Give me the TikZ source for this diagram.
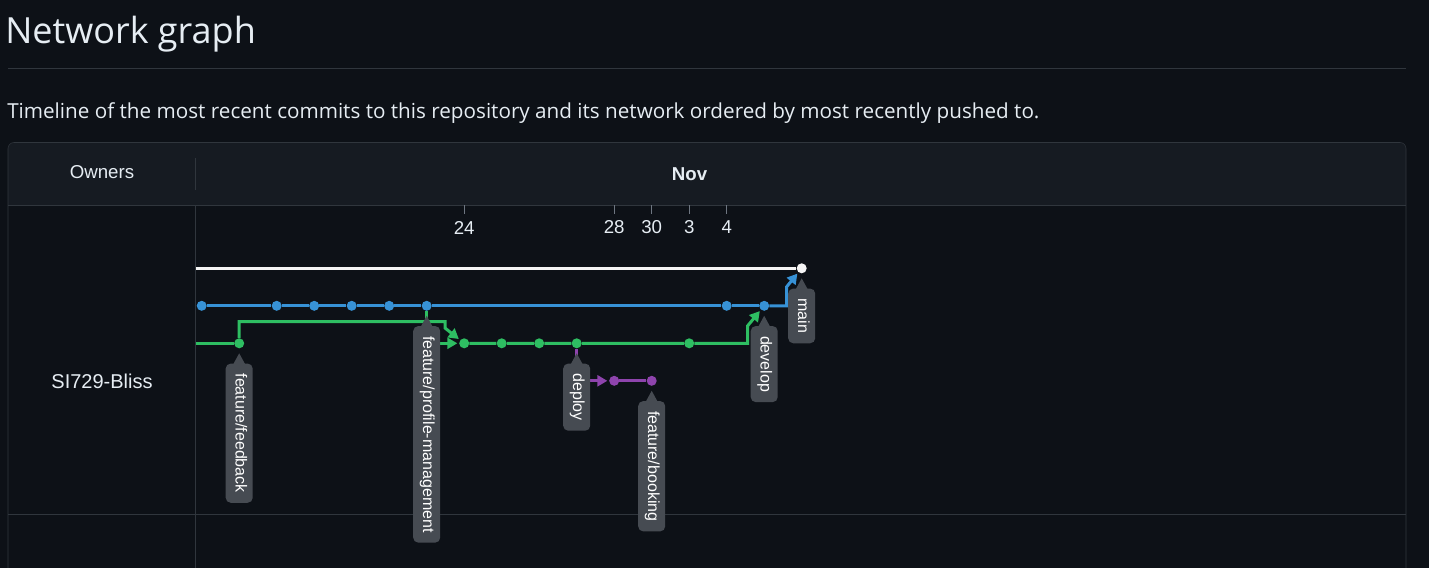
\documentclass[tikz,border=0pt]{standalone}
\usepackage{fontspec}
\setmainfont{Open Sans}
\newfontfamily\graphfont{Liberation Sans}
\usetikzlibrary{arrows.meta}
\definecolor{pagebg}{RGB}{13,17,23}
\definecolor{headbg}{RGB}{22,27,34}
\definecolor{rulec}{RGB}{48,54,61}
\definecolor{fg}{RGB}{230,237,243}
\definecolor{tickc}{RGB}{110,118,129}
\definecolor{tagc}{RGB}{70,75,82}
\definecolor{mainc}{RGB}{245,245,245}
\definecolor{devc}{RGB}{55,146,214}
\definecolor{featc}{RGB}{46,190,98}
\definecolor{depc}{RGB}{142,68,173}
\pgfdeclarelayer{panel}
\pgfdeclarelayer{edges}
\pgfsetlayers{panel,edges,main}
\begin{document}
\begin{tikzpicture}[x=0.75pt, y=-0.75pt,
    commit/.style={circle, inner sep=0pt, minimum size=7.5pt},
    lane/.style={line width=2.25pt},
    merge/.style={lane, -{Triangle[length=7.5pt,width=8.25pt]}, shorten >=1.2pt},
    branchtag/.style={rotate=-90, anchor=west, fill=tagc, text=white, rounded corners=3.75pt,
        inner xsep=7.5pt, inner ysep=0pt, minimum height=20.25pt, text height=0.72em,
        text depth=0.2em, font=\graphfont\fontsize{12}{14}\selectfont},
    datelbl/.style={font=\graphfont\fontsize{14}{16}\selectfont, text=fg}]
    \useasboundingbox (0,0) rectangle (1429,568);
    \begin{pgfonlayer}{panel}
        \fill[pagebg] (0,0) rectangle (1429,568);
        \draw[rulec] (8,68) -- (1406,68);
        \fill[headbg, rounded corners=4.5pt] (8,142.5) rectangle (1406,215);
        \fill[pagebg] (8,205) rectangle (1406,568);
        \draw[rulec, rounded corners=4.5pt] (8,568) -- (8,142.5) -- (1406,142.5) -- (1406,568);
        \draw[rulec] (8,205) -- (1406,205);
        \draw[rulec] (8,514) -- (1406,514);
        \draw[rulec] (195,158) -- (195,190);
        \draw[rulec] (195,205) -- (195,568);
    \end{pgfonlayer}
    \node[anchor=base west, inner sep=0pt, text=fg, font=\fontsize{27}{32}\selectfont] (title) at (5,43) {Network graph};
    \node[anchor=base west, inner sep=0pt, text=fg, font=\fontsize{15.5}{18}\selectfont] (subtitle) at (7,118)
        {Timeline of the most recent commits to this repository and its network ordered by most recently pushed to.};
    \node[datelbl] (owners) at (102,172) {Owners};
    \node[datelbl, font=\graphfont\bfseries\fontsize{14}{16}\selectfont] (nov) at (689.5,174) {Nov};
    \node[datelbl, font=\graphfont\fontsize{15}{18}\selectfont] (owner) at (102,381) {SI729-Bliss};
    \foreach \k/\d in {7/24, 11/28, 12/30, 13/3, 14/4} {
        \node[datelbl] (d\d) at ({201.7+37.5*\k},227.5) {\d};
        \draw[tickc] (d\d |- 0,205) -- (d\d |- 0,214);
    }
    \coordinate (mstart) at (196,268.3);
    \coordinate (fstart) at (196,343.3);
    \node[commit, fill=mainc] (w16) at ({201.7+37.5*16},268.3) {};
    \foreach \k in {0,2,3,4,5,6,14,15}
        \node[commit, fill=devc] (b\k) at ({201.7+37.5*\k},305.8) {};
    \foreach \k in {1,7,8,9,10,13}
        \node[commit, fill=featc] (g\k) at ({201.7+37.5*\k},343.3) {};
    \foreach \k in {11,12}
        \node[commit, fill=depc] (p\k) at ({201.7+37.5*\k},380.8) {};
    \begin{pgfonlayer}{edges}
        \draw[lane, mainc] (mstart) -- (w16);
        \draw[lane, devc] (b0) -- (b2) -- (b3) -- (b4) -- (b5) -- (b6) -- (b14) -- (b15);
        \draw[merge, devc] (b15) -- ++(22.3,0) -- ++(0,-18.8) -- (w16);
        \draw[lane, featc] (fstart) -- (g1);
        \draw[merge, featc] (g1) -- ++(0,-21.8) -- ++(205.8,0) -- ++(0,6.5) -- (g7);
        \draw[merge, featc] (b6) -- ++(0,37.5) -- (g7);
        \draw[merge, featc] (g7) -- (g8) -- (g9) -- (g10) -- (g13) -- ++(58.3,0) -- ++(0,-17.3) -- (b15);
        \draw[merge, depc] (g10) -- ++(0,37.5) -- (p11);
        \draw[lane, depc] (p11) -- (p12);
    \end{pgfonlayer}
    \node[branchtag] (lfeed) at ([yshift=-15pt]g1.center) {feature/feedback};
    \node[branchtag] (lprof) at ([yshift=-15pt]b6.center) {feature/profile-management};
    \node[branchtag] (ldeploy) at ([yshift=-15pt]g10.center) {deploy};
    \node[branchtag] (lbook) at ([yshift=-15pt]p12.center) {feature/booking};
    \node[branchtag] (ldev) at ([yshift=-15pt]b15.center) {develop};
    \node[branchtag] (lmain) at ([yshift=-15pt]w16.center) {main};
    \foreach \t in {lfeed,lprof,ldeploy,lbook,ldev,lmain}
        \fill[tagc] (\t.west) ++(-6,1) -- ++(6,-11) -- ++(6,11) -- cycle;
\end{tikzpicture}
\end{document}
